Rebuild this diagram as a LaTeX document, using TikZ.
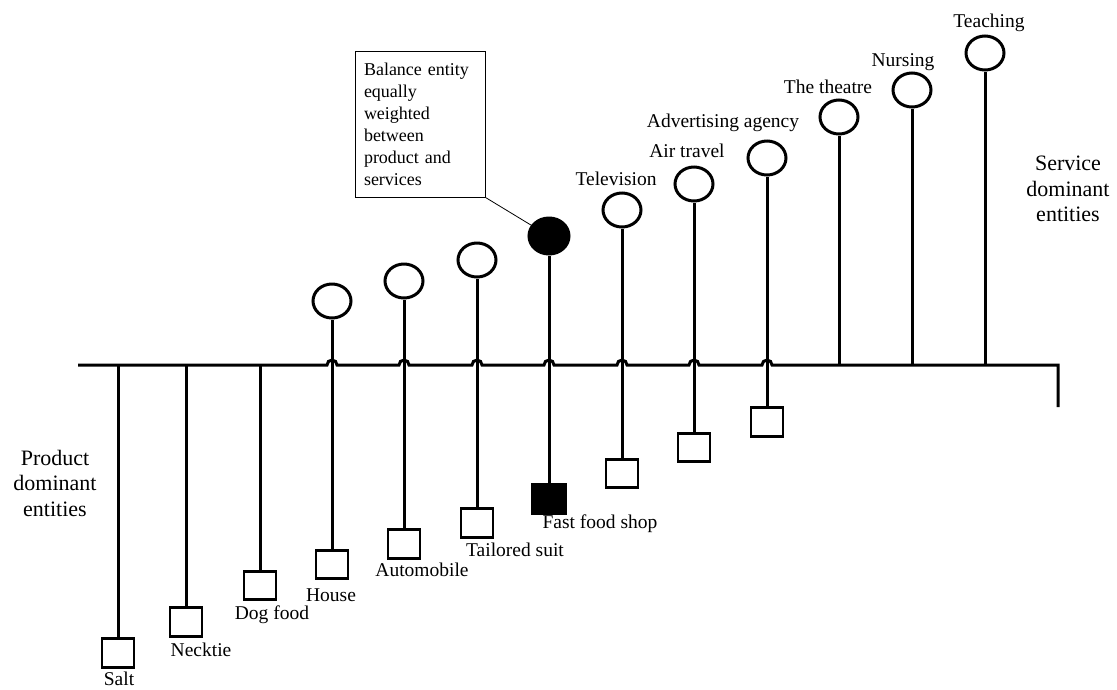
\documentclass[tikz,border=0pt]{standalone}
\usepackage{fontspec}
\setmainfont{Liberation Serif}
\usetikzlibrary{shapes.geometric}
\begin{document}
\begin{tikzpicture}[x=1pt,y=-1pt,
  stem/.style={line width=3pt},
  bubble/.style={draw,ellipse,line width=3pt,minimum width=38pt,minimum height=34pt,inner sep=0pt},
  block/.style={draw,rectangle,line width=2.6pt,minimum width=32pt,minimum height=28.5pt,inner sep=0pt},
  lbl/.style={inner sep=0pt,font=\fontsize{19.5}{22}\selectfont},
  side/.style={align=center,inner sep=0pt,font=\fontsize{22}{25.5}\selectfont}]
\useasboundingbox (0,0) rectangle (1117,689);

% main axis, hopping over the through-going stems
\coordinate (L) at (78,365);
\coordinate (R) at (1058,365);
\coordinate (Rend) at (1058,407);
\draw[stem] (L)
  foreach \h in {332,404,477,549,622,694,767} { -- (\h-5,365) arc[start angle=180,end angle=0,radius=5pt] }
  -- (R) -- (Rend);

% product side: squares hanging from the axis
\coordinate (a1) at (118,365);
\coordinate (a2) at (186,365);
\coordinate (a3) at (260,365);
\node[block] (s1) at (118,653) {};
\node[block] (s2) at (186,622) {};
\node[block] (s3) at (260,585.5) {};
\draw[stem] (a1) -- (s1.north);
\draw[stem] (a2) -- (s2.north);
\draw[stem] (a3) -- (s3.north);

% mixed entities: circle above, square below
\node[bubble] (c4) at (332,301) {};
\node[bubble] (c5) at (404,281) {};
\node[bubble] (c6) at (477,260) {};
\node[bubble,fill=black,minimum width=40pt,minimum height=36pt] (c7) at (549,236) {};
\node[bubble] (c8) at (622,210) {};
\node[bubble] (c9) at (694,184) {};
\node[bubble] (c10) at (767,158) {};
\node[block] (s4) at (332,564.5) {};
\node[block] (s5) at (404,544) {};
\node[block] (s6) at (477,523) {};
\node[block,fill=black,minimum width=33.5pt,minimum height=30pt] (s7) at (549,499) {};
\node[block] (s8) at (622,473.5) {};
\node[block] (s9) at (694,447.5) {};
\node[block] (s10) at (767,422) {};
\foreach \i in {4,...,10} { \draw[stem] (c\i.south) -- (s\i.north); }

% service side: circles standing on the axis
\node[bubble] (c11) at (839,117) {};
\node[bubble] (c12) at (912,90) {};
\node[bubble] (c13) at (985,53) {};
\coordinate (a11) at (839,365);
\coordinate (a12) at (912,365);
\coordinate (a13) at (985,365);
\draw[stem] (c11.south) -- (a11);
\draw[stem] (c12.south) -- (a12);
\draw[stem] (c13.south) -- (a13);

% item labels
\node[lbl] (l1) at (119,679) {Salt};
\node[lbl] (l2) at (201,650) {Necktie};
\node[lbl] (l3) at (272,615) {Dog food};
\node[lbl] (l4) at (331,595) {House};
\node[lbl] (l5) at (422,570) {Automobile};
\node[lbl] (l6) at (515,550) {Tailored suit};
\node[lbl] (l7) at (600,524) {Fast food shop};
\node[lbl] (l8) at (616,179) {Television};
\node[lbl] (l9) at (687,151) {Air travel};
\node[lbl] (l10) at (723,123) {Advertising agency};
\node[lbl] (l11) at (828,87) {The theatre};
\node[lbl] (l12) at (903,62) {Nursing};
\node[lbl] (l13) at (989,23) {Teaching};

% callout for the balanced entity
\node[draw,line width=0.8pt,text width=112pt,minimum width=130pt,minimum height=146pt,
      align=left,inner sep=0pt,font=\fontsize{18}{22}\selectfont] (note) at (420,124)
  {Balance entity\\equally\\weighted\\between\\product and\\services};
\draw[line width=0.8pt] (note.south east) -- (c7);

% side captions
\node[side] (pd) at (55,483) {Product\\dominant\\entities};
\node[side] (sd) at (1068,189) {Service\\dominant\\entities};
\end{tikzpicture}
\end{document}
